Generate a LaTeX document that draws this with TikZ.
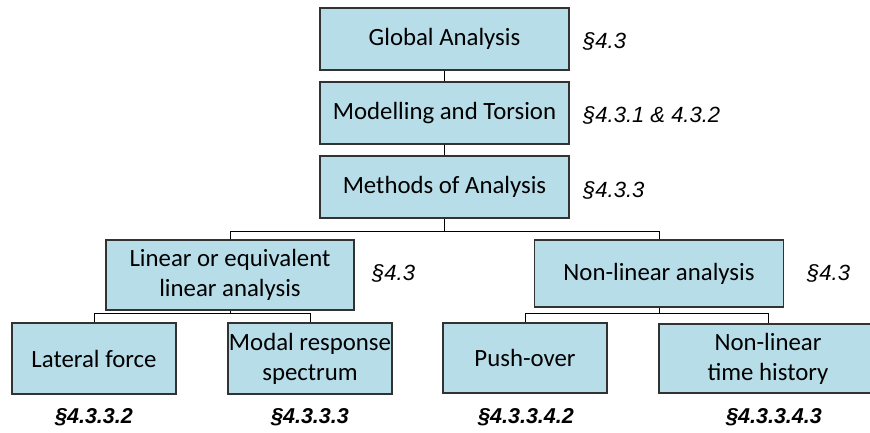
\documentclass[tikz,border=0pt]{standalone}
\usepackage{fontspec}
\setmainfont{Carlito}
\newfontfamily\labfont{Liberation Sans}[ItalicFont={Liberation Sans Italic},BoldItalicFont={Liberation Sans Bold Italic}]
\definecolor{boxfill}{RGB}{183,221,232}
\definecolor{boxline}{RGB}{50,50,50}
\tikzset{
  box/.style={draw=boxline, line width=1.2pt, fill=boxfill, inner sep=0pt,
    align=center, font=\fontsize{24.8}{30}\selectfont},
  conn/.style={draw=black, line width=1pt},
  reflab/.style={anchor=base west, inner sep=0pt, font=\fontsize{22}{26}\labfont\itshape},
  botlab/.style={anchor=base, inner sep=0pt, font=\fontsize{21.5}{25}\labfont\bfseries\itshape}
}
\begin{document}
\begin{tikzpicture}[x=1pt,y=-1pt]
\useasboundingbox (0,0) rectangle (870,433);
\clip (0,0) rectangle (870,433);
\fill[white] (0,0) rectangle (870,433);

% boxes
\node[box, minimum width=249pt, minimum height=62pt] (g) at (444.5,39) {Global Analysis};
\node[box, minimum width=249pt, minimum height=62pt] (m) at (444.5,113) {Modelling and Torsion};
\node[box, minimum width=249pt, minimum height=62pt] (meth) at (444.5,187) {Methods of Analysis};
\node[box, minimum width=248pt, minimum height=70pt] (lin) at (230,275) {Linear or equivalent\\linear analysis};
\node[box, minimum width=249pt, minimum height=67pt] (nl) at (659,273.5) {Non-linear analysis};
\node[box, minimum width=164pt, minimum height=71pt] (lat) at (94,358.5) {Lateral force};
\node[box, minimum width=164pt, minimum height=71pt] (mod) at (310,358.5) {Modal response\\spectrum};
\node[box, minimum width=164pt, minimum height=70pt] (push) at (525,358) {Push-over};
\node[box, minimum width=218pt, minimum height=69pt] (th) at (768,358.5) {Non-linear\\time history};

% junctions
\coordinate (j1) at (444.5,231);
\coordinate (j2) at (230,313);
\coordinate (j3) at (659,313);

% connectors
\draw[conn] (g.south) -- (m.north);
\draw[conn] (m.south) -- (meth.north);
\draw[conn] (meth.south) -- (j1);
\draw[conn] (j1) -| (lin.north);
\draw[conn] (j1) -| (nl.north);
\draw[conn] (lin.south) -- (j2);
\draw[conn] (j2) -| (lat.north);
\draw[conn] (j2) -| (mod.north);
\draw[conn] (nl.south) -- (j3);
\draw[conn] (j3) -| (push.north);
\draw[conn] (j3) -| (th.north);

% reference labels
\node[reflab] (rg) at (583,49) {§4.3};
\node[reflab] (rm) at (583,123) {§4.3.1 \& 4.3.2};
\node[reflab] (rmeth) at (583,197) {§4.3.3};
\node[reflab] (rlin) at (372,280) {§4.3};
\node[reflab] (rnl) at (807,280) {§4.3};
\node[botlab] (rlat) at (94,423) {§4.3.3.2};
\node[botlab] (rmod) at (310,423) {§4.3.3.3};
\node[botlab] (rpush) at (526,423) {§4.3.3.4.2};
\node[botlab] (rth) at (774,423) {§4.3.3.4.3};
\end{tikzpicture}
\end{document}
